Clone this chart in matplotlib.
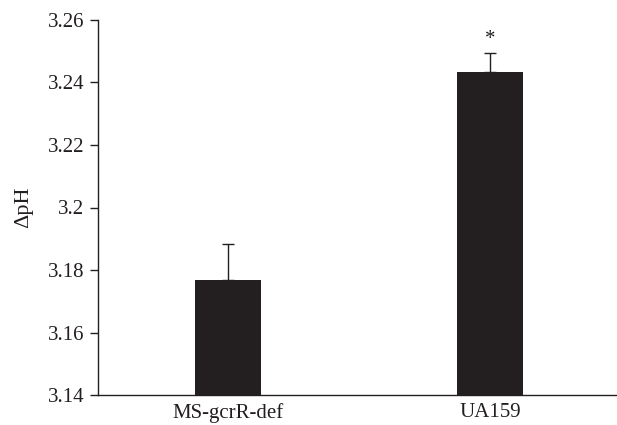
import matplotlib
matplotlib.use("Agg")
import matplotlib.pyplot as plt

categories = ["MS-gcrR-def", "UA159"]
values = [3.1768, 3.2435]
errors = [0.0115, 0.0058]
significance = ["", "*"]
yticks = [3.14, 3.16, 3.18, 3.2, 3.22, 3.24, 3.26]
ytick_labels = ["3.14", "3.16", "3.18", "3.2", "3.22", "3.24", "3.26"]

plt.rcParams['font.family'] = ['Liberation Serif', 'DejaVu Serif']

fig = plt.figure(figsize=(6.17, 4.25), dpi=100)
left, bottom, top = 98/617, 1 - 395/425, 1 - 20/425
ax = fig.add_axes([left, bottom, 1.0 - left, top - bottom])

x = list(range(len(categories)))
color = "#231f20"
ax.bar(x, values, width=0.255, color=color, zorder=2)
ax.errorbar(x, values, yerr=[[0]*len(errors), errors], fmt='none',
            ecolor=color, elinewidth=1.0, capsize=4, capthick=1.0, zorder=3)
for xi, v, e, s in zip(x, values, errors, significance):
    if s:
        ax.text(xi, v + e + 0.0015, s, ha='center', va='bottom', fontsize=15, color=color)

ax.set_xlim(-0.496, 1.485)
ax.set_ylim(3.14, 3.26)
ax.set_yticks(yticks)
ax.set_yticklabels(ytick_labels)
ax.set_xticks(x)
ax.set_xticklabels(categories)
ax.tick_params(axis='x', length=0, pad=6, labelsize=15, colors='#231f20')
ax.tick_params(axis='y', length=6, width=1, direction='out', pad=4, labelsize=15, colors='#231f20')
for s in ['top', 'right']:
    ax.spines[s].set_visible(False)
for s in ['left', 'bottom']:
    ax.spines[s].set_color('#231f20')
    ax.spines[s].set_linewidth(1.0)
ax.set_ylabel("ΔpH", fontsize=16, color='#231f20', labelpad=10)

fig.savefig("out.png", dpi=100)
